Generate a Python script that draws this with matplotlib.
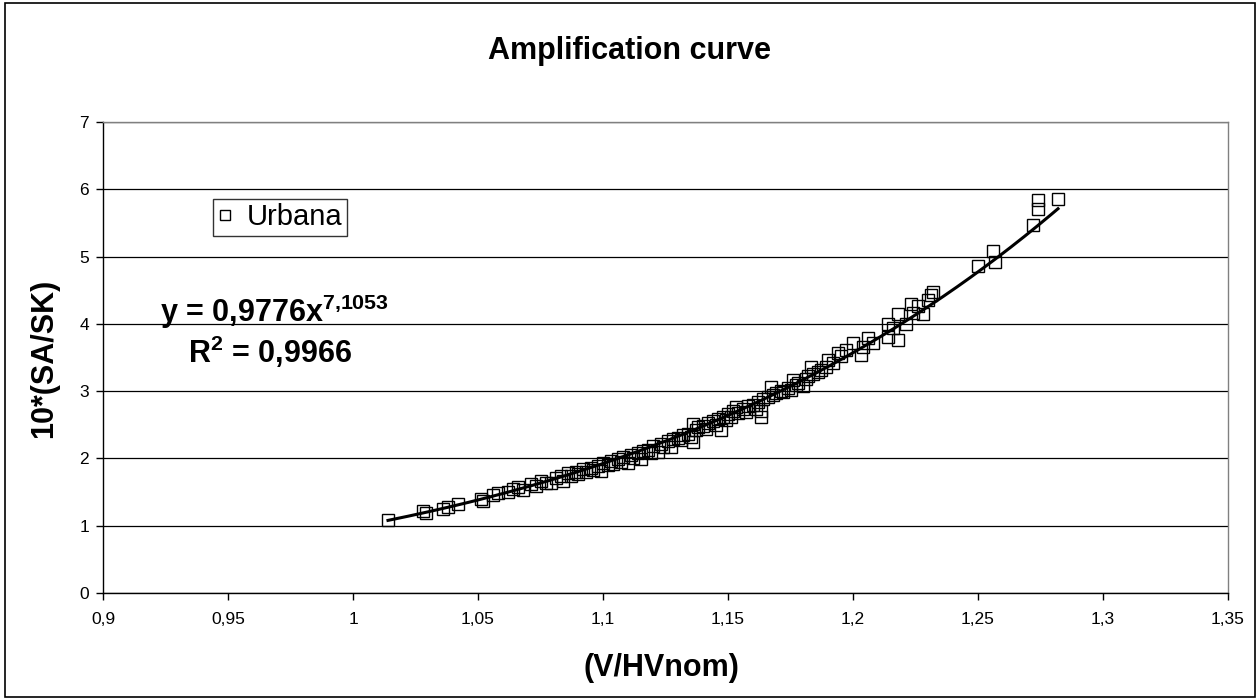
import matplotlib
matplotlib.use('Agg')
import matplotlib.pyplot as plt
from matplotlib.patches import Rectangle
import numpy as np

plt.rcParams['font.family'] = ['Liberation Sans', 'DejaVu Sans']
plt.rcParams['mathtext.fontset'] = 'custom'
plt.rcParams['mathtext.bf'] = 'Liberation Sans:bold'
plt.rcParams['mathtext.rm'] = 'Liberation Sans'
plt.rcParams['mathtext.default'] = 'bf'

# measured points (V/HVnom, 10*SA/SK)
v_ratio = [1.014, 1.028, 1.029, 1.036, 1.038, 1.042, 1.051, 1.052, 1.056, 1.058,
           1.062, 1.064, 1.066, 1.068, 1.071, 1.073, 1.075, 1.077, 1.079, 1.081,
           1.083, 1.084, 1.086, 1.087, 1.089, 1.090, 1.092, 1.093, 1.095, 1.096,
           1.098, 1.099, 1.100, 1.102, 1.103, 1.104, 1.106, 1.107, 1.108, 1.110,
           1.111, 1.112, 1.114, 1.115, 1.116, 1.118, 1.119, 1.120, 1.122, 1.123,
           1.124, 1.126, 1.127, 1.128, 1.130, 1.131, 1.132, 1.134, 1.135, 1.136,
           1.136, 1.137, 1.138, 1.140, 1.141, 1.142, 1.144, 1.145, 1.146, 1.147,
           1.148, 1.149, 1.150, 1.151, 1.152, 1.153, 1.154, 1.156, 1.157, 1.158,
           1.160, 1.161, 1.162, 1.163, 1.163, 1.164, 1.166, 1.167, 1.168, 1.169,
           1.171, 1.172, 1.174, 1.175, 1.176, 1.177, 1.178, 1.180, 1.181, 1.182,
           1.183, 1.184, 1.186, 1.187, 1.189, 1.190, 1.192, 1.194, 1.195, 1.197,
           1.200, 1.203, 1.204, 1.206, 1.208, 1.214, 1.214, 1.216, 1.218, 1.218,
           1.221, 1.223, 1.224, 1.226, 1.228, 1.230, 1.231, 1.232, 1.250, 1.256,
           1.257, 1.272, 1.274, 1.274, 1.282]
amp = [1.08, 1.22, 1.19, 1.25, 1.28, 1.33, 1.40, 1.37, 1.45, 1.48,
       1.50, 1.55, 1.57, 1.53, 1.62, 1.59, 1.67, 1.64, 1.63, 1.71,
       1.74, 1.66, 1.78, 1.74, 1.80, 1.77, 1.84, 1.80, 1.86, 1.83,
       1.89, 1.81, 1.93, 1.90, 1.96, 1.92, 1.99, 1.95, 2.02, 1.93,
       2.05, 2.01, 2.08, 1.99, 2.11, 2.13, 2.08, 2.18, 2.10, 2.21,
       2.17, 2.26, 2.17, 2.29, 2.31, 2.27, 2.35, 2.37, 2.32, 2.24,
       2.51, 2.42, 2.46, 2.48, 2.44, 2.53, 2.55, 2.50, 2.59, 2.42,
       2.62, 2.57, 2.66, 2.61, 2.71, 2.76, 2.67, 2.73, 2.69, 2.78,
       2.80, 2.74, 2.84, 2.62, 2.70, 2.88, 2.91, 3.06, 2.95, 2.97,
       3.00, 2.98, 3.05, 3.02, 3.16, 3.09, 3.12, 3.07, 3.18, 3.22,
       3.36, 3.26, 3.29, 3.32, 3.36, 3.46, 3.42, 3.57, 3.52, 3.61,
       3.71, 3.54, 3.66, 3.79, 3.71, 4.00, 3.80, 3.94, 4.15, 3.76,
       4.00, 4.29, 4.16, 4.26, 4.15, 4.35, 4.43, 4.47, 4.86, 5.08,
       4.92, 5.47, 5.84, 5.71, 5.85]

# power trendline shown on the chart
fit_coef = 0.9776
fit_exp = 7.1053

x_ticks = [0.9, 0.95, 1.0, 1.05, 1.1, 1.15, 1.2, 1.25, 1.3, 1.35]
x_tick_labels = ['0,9', '0,95', '1', '1,05', '1,1', '1,15', '1,2', '1,25', '1,3', '1,35']
y_ticks = [0, 1, 2, 3, 4, 5, 6, 7]

W, H = 1260, 700
def fx(px):
    return px / W
def fy(py):
    return 1 - py / H

fig = plt.figure(figsize=(12.6, 7), dpi=100)
ax = fig.add_axes([fx(103), fy(593), (1228 - 103) / W, (593 - 122) / H])

ax.plot(v_ratio, amp, linestyle='none', marker='s', markersize=8,
        markerfacecolor='none', markeredgecolor='black', markeredgewidth=1.0,
        label='Urbana', zorder=3)

xf = np.linspace(min(v_ratio), max(v_ratio), 200)
ax.plot(xf, fit_coef * xf ** fit_exp, color='black', linewidth=2.2, zorder=4)

ax.set_xlim(0.9, 1.35)
ax.set_ylim(0, 7)
ax.set_xticks(x_ticks)
ax.set_xticklabels(x_tick_labels)
ax.set_yticks(y_ticks)
ax.tick_params(axis='both', direction='out', length=5, width=1, labelsize=12.5)
ax.tick_params(axis='x', pad=9)
ax.tick_params(axis='y', pad=5)
ax.yaxis.grid(True, color='black', linewidth=0.9)
ax.set_axisbelow(True)

for s in ['top', 'right']:
    ax.spines[s].set_color('#808080')
    ax.spines[s].set_linewidth(1.0)
for s in ['left', 'bottom']:
    ax.spines[s].set_color('black')
    ax.spines[s].set_linewidth(1.0)

fig.text(fx(630), fy(51), 'Amplification curve', fontsize=22, fontweight='bold',
         ha='center', va='center')
fig.text(fx(661), fy(668), '(V/HVnom)', fontsize=22, fontweight='bold',
         ha='center', va='center')
fig.text(fx(44), fy(358), '10*(SA/SK)', fontsize=22, fontweight='bold',
         ha='center', va='center', rotation=90)

leg = ax.legend(loc='upper left', bbox_to_anchor=(fx(213), fy(199)),
                bbox_transform=fig.transFigure, fontsize=21,
                frameon=True, fancybox=False, borderpad=0.15, borderaxespad=0,
                handlelength=0.55, handletextpad=0.45, markerscale=0.9)
leg.get_frame().set_edgecolor('black')
leg.get_frame().set_linewidth(1.0)

fig.text(fx(160), fy(322), 'y = 0,9776x$^{7{,}1053}$', fontsize=22,
         fontweight='bold', ha='left', va='baseline')
fig.text(fx(188), fy(363), 'R$^{2}$ = 0,9966', fontsize=22,
         fontweight='bold', ha='left', va='baseline')

fig.patches.append(Rectangle((0.004, 0.004), 0.992, 0.992, transform=fig.transFigure,
                             fill=False, edgecolor='black', linewidth=1.2))

fig.savefig('out.png', dpi=100)
